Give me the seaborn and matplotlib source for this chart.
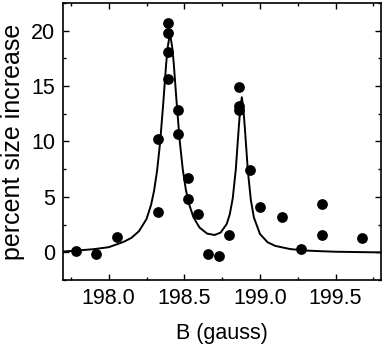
import matplotlib
matplotlib.use("Agg")
import matplotlib.pyplot as plt
from matplotlib.ticker import MultipleLocator
import seaborn as sns
import pandas as pd

# measured points (B field in gauss, percent size increase)
b_data = [197.786, 197.918, 198.055, 198.329, 198.327, 198.395, 198.395, 198.395,
          198.395, 198.461, 198.461, 198.527, 198.527, 198.593, 198.659, 198.730,
          198.797, 198.863, 198.863, 198.863, 198.934, 199.000, 199.143, 199.270,
          199.407, 199.407, 199.675]
size_data = [0.12, -0.18, 1.38, 3.67, 10.18, 20.72, 19.76, 18.08,
             15.59, 12.86, 10.69, 6.73, 4.84, 3.49, -0.18, -0.33,
             1.53, 14.89, 13.24, 12.79, 7.45, 4.08, 3.18, 0.27,
             4.39, 1.59, 1.32]

# fitted curve
b_fit = [197.70, 197.80, 197.90, 198.00, 198.05, 198.10, 198.15, 198.20, 198.25,
         198.28, 198.30, 198.32, 198.34, 198.36, 198.38, 198.39, 198.40, 198.41,
         198.42, 198.43, 198.45, 198.47, 198.49, 198.51, 198.53, 198.56, 198.60,
         198.65, 198.70, 198.74, 198.78, 198.80, 198.82, 198.84, 198.86, 198.87,
         198.88, 198.89, 198.90, 198.92, 198.94, 198.96, 199.00, 199.05, 199.10,
         199.20, 199.30, 199.40, 199.50, 199.60, 199.70, 199.80]
size_fit = [0.07, 0.17, 0.28, 0.46, 0.70, 0.95, 1.30, 1.90, 3.00,
            4.27, 5.55, 7.37, 9.92, 13.31, 17.01, 18.48, 19.32, 19.32,
            18.49, 17.04, 13.35, 9.98, 7.45, 5.65, 4.40, 3.17, 2.24,
            1.69, 1.56, 1.78, 2.55, 3.40, 4.87, 7.45, 11.29, 13.00,
            13.99, 12.97, 11.22, 7.33, 4.68, 3.13, 1.65, 0.91, 0.58,
            0.29, 0.16, 0.10, 0.05, 0.03, 0.01, -0.01]

points = pd.DataFrame({"B": b_data, "size": size_data})
fit = pd.DataFrame({"B": b_fit, "size": size_fit})

sns.set_style("ticks")
plt.rcParams["font.family"] = ["Liberation Sans", "DejaVu Sans"]

fig = plt.figure(figsize=(3.82, 3.54), dpi=100)
ax = fig.add_axes([0.1657, 0.209, 0.8317, 0.783])

sns.lineplot(data=fit, x="B", y="size", sort=False, estimator=None,
             color="black", linewidth=1.4, ax=ax)
sns.scatterplot(data=points, x="B", y="size", color="black", s=60,
                edgecolor="black", linewidth=0, zorder=3, ax=ax)

ax.set_xlim(197.7, 199.8)
ax.set_ylim(-2.5, 22.5)
ax.xaxis.set_major_locator(MultipleLocator(0.5))
ax.xaxis.set_minor_locator(MultipleLocator(0.25))
ax.yaxis.set_major_locator(MultipleLocator(5))
ax.yaxis.set_minor_locator(MultipleLocator(2.5))
ax.xaxis.set_major_formatter(plt.FormatStrFormatter("%.1f"))

ax.tick_params(which="both", direction="in", top=True, right=True,
               width=1.0, colors="black", labelsize=15.5)
ax.tick_params(which="major", length=4.5, pad=6)
ax.tick_params(which="minor", length=2.5)
for sp in ax.spines.values():
    sp.set_visible(True)
    sp.set_linewidth(1.2)
    sp.set_color("black")

ax.set_xlabel("B (gauss)", fontsize=15.5, labelpad=10, color="black")
ax.set_ylabel("percent size increase", fontsize=18, labelpad=4, color="black")

fig.savefig("out.png", dpi=100)
